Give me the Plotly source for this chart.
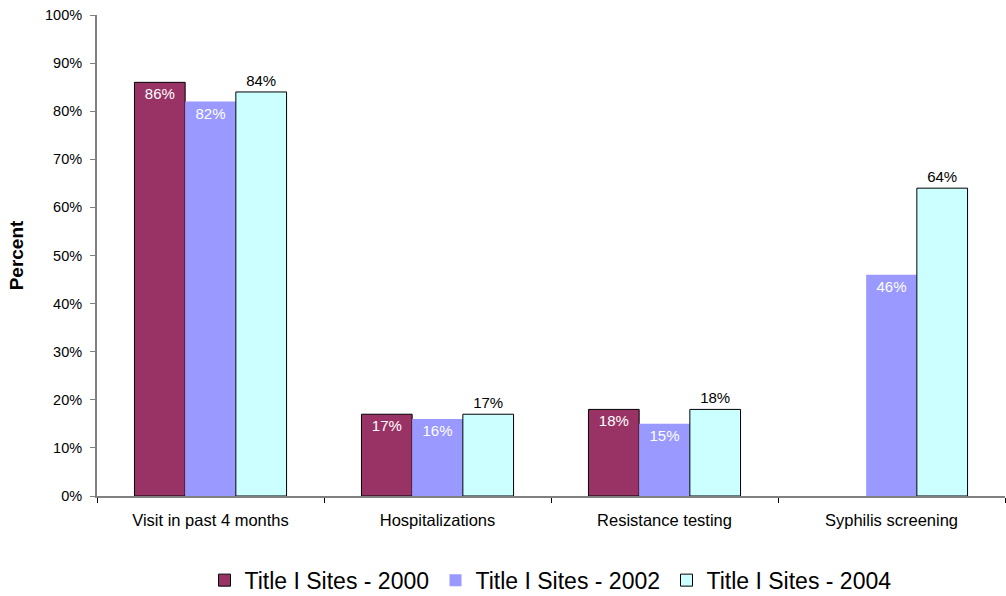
import plotly.graph_objects as go

categories = ["Visit in past 4 months", "Hospitalizations", "Resistance testing", "Syphilis screening"]
sites_2000 = [86, 17, 18, None]
sites_2002 = [82, 16, 15, 46]
sites_2004 = [84, 17, 18, 64]

FONT = "Liberation Sans, Arial, sans-serif"

series = [
    ("Title I Sites - 2000", sites_2000, "#993366", "black", 1, "inside", "white"),
    ("Title I Sites - 2002", sites_2002, "#9999FF", "#9999FF", 0, "inside", "white"),
    ("Title I Sites - 2004", sites_2004, "#CCFFFF", "black", 1, "outside", "black"),
]

fig = go.Figure()
for name, vals, fill, line_c, line_w, pos, txt_c in series:
    fig.add_trace(go.Bar(
        name=name,
        x=categories,
        y=[v / 100 if v is not None else None for v in vals],
        text=[f"{v}%" if v is not None else "" for v in vals],
        textposition=pos,
        insidetextanchor="end",
        textfont=dict(color=txt_c, size=15, family=FONT),
        outsidetextfont=dict(color=txt_c, size=15, family=FONT),
        cliponaxis=False,
        marker=dict(color=fill, line=dict(color=line_c, width=line_w)),
    ))

fig.update_layout(
    barmode="group",
    bargap=0.33,
    bargroupgap=0,
    width=1006,
    height=596,
    margin=dict(l=97, r=1, t=15, b=100, autoexpand=False),
    plot_bgcolor="white",
    paper_bgcolor="white",
    font=dict(family=FONT, color="black", size=12),
    legend=dict(
        orientation="h",
        x=0.5, xanchor="center",
        y=-0.175, yanchor="middle",
        font=dict(size=23),
        itemwidth=30,
        entrywidth=186,
        entrywidthmode="pixels",
        traceorder="normal",
    ),
    xaxis=dict(
        showline=True, linecolor="#808080", linewidth=2,
        ticks="outside", tickson="boundaries", ticklen=5, tickcolor="black",
        tickfont=dict(size=16.5),
        ticklabelstandoff=8,
        showgrid=False,
    ),
    yaxis=dict(
        range=[0, 1],
        tickformat=".0%",
        dtick=0.1,
        showline=True, linecolor="#808080", linewidth=2,
        ticks="outside", ticklen=5, tickcolor="#808080",
        tickfont=dict(size=14.5),
        ticklabelstandoff=5,
        showgrid=False,
        zeroline=False,
        title=dict(text="<b>Percent</b>", font=dict(size=19), standoff=16),
    ),
)

fig.write_html("out.html")
